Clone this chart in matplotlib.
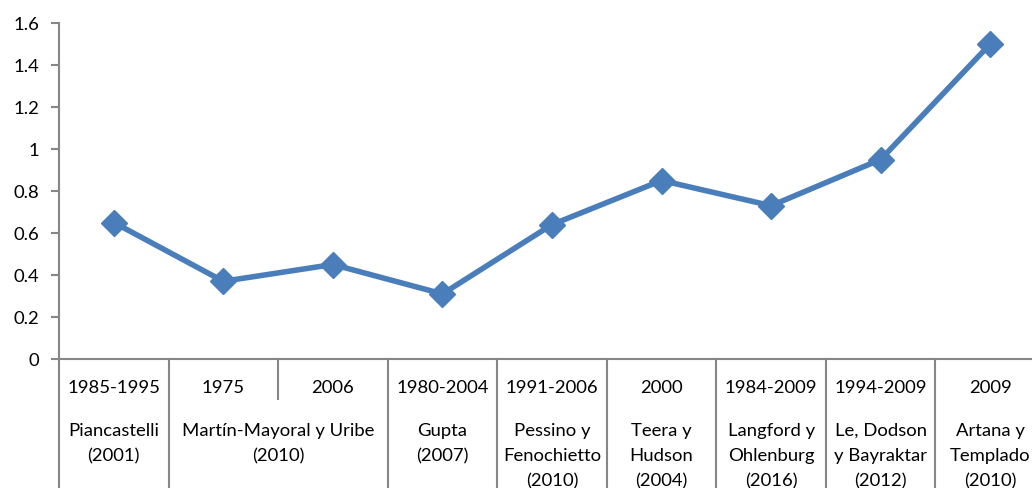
import matplotlib
matplotlib.use("Agg")
import matplotlib.pyplot as plt

periods = ["1985-1995", "1975", "2006", "1980-2004", "1991-2006", "2000",
           "1984-2009", "1994-2009", "2009"]
values = [0.65, 0.37, 0.45, 0.31, 0.64, 0.85, 0.73, 0.95, 1.5]
groups = ["Piancastelli\n(2001)", "Martín-Mayoral y Uribe\n(2010)", "Gupta\n(2007)",
          "Pessino y\nFenochietto\n(2010)", "Teera y\nHudson\n(2004)",
          "Langford y\nOhlenburg\n(2016)", "Le, Dodson\ny Bayraktar\n(2012)",
          "Artana y\nTemplado\n(2010)"]
group_sizes = [1, 2, 1, 1, 1, 1, 1, 1]
yticks = [0, 0.2, 0.4, 0.6, 0.8, 1.0, 1.2, 1.4, 1.6]
ytick_labels = ["0", "0.2", "0.4", "0.6", "0.8", "1", "1.2", "1.4", "1.6"]

W, H = 1032, 489
fig = plt.figure(figsize=(W / 100, H / 100), dpi=100)
plt.rcParams['font.family'] = ['Lato', 'DejaVu Sans']
FS = 13.3

ax_left, ax_right, ax_top, ax_bottom = 59, 1045, 24, 360
ax = fig.add_axes([ax_left / W, 1 - ax_bottom / H, (ax_right - ax_left) / W,
                   (ax_bottom - ax_top) / H])
ax_h = ax_bottom - ax_top

blue = "#4A7EBB"
x = list(range(len(values)))
ax.plot(x, values, color=blue, lw=4, marker="D", markersize=13.5,
        markerfacecolor=blue, markeredgecolor=blue, zorder=3, clip_on=False)

ax.set_xlim(-0.5, len(values) - 0.5)
ax.set_ylim(0, 1.6)
ax.set_yticks(yticks)
ax.set_yticklabels(ytick_labels, fontsize=FS, color="#000000")
ax.set_xticks([])
gray = "#868686"
for s in ["top", "right"]:
    ax.spines[s].set_visible(False)
for s in ["left", "bottom"]:
    ax.spines[s].set_color(gray)
    ax.spines[s].set_linewidth(1.5)
ax.tick_params(axis="y", length=6, width=1.5, color=gray, pad=8)

tr = ax.get_xaxis_transform()

def fy(px):
    # pixel offset below axis -> axes fraction
    return -px / ax_h

# period labels
for i, p in enumerate(periods):
    ax.text(i, fy(388 - ax_bottom), p, transform=tr, ha="center", va="center",
            fontsize=FS, clip_on=False)

# group labels and separators
start = 0
bottom_frac = fy(H - ax_bottom + 5)
ax.plot([-0.5, -0.5], [0, bottom_frac], transform=tr, color=gray, lw=1.5, clip_on=False)
for g, n in zip(groups, group_sizes):
    center = start + (n - 1) / 2
    for k, line in enumerate(g.split("\n")):
        ax.text(center, fy(431 + 25 * k - ax_bottom), line, transform=tr,
                ha="center", va="center", fontsize=FS, clip_on=False)
    for j in range(1, n):
        xs = start + j - 0.5
        ax.plot([xs, xs], [0, fy(40)], transform=tr, color=gray, lw=1.5, clip_on=False)
    end = start + n - 0.5
    ax.plot([end, end], [0, bottom_frac], transform=tr, color=gray, lw=1.5, clip_on=False)
    start += n

fig.savefig("out.png", dpi=100)
